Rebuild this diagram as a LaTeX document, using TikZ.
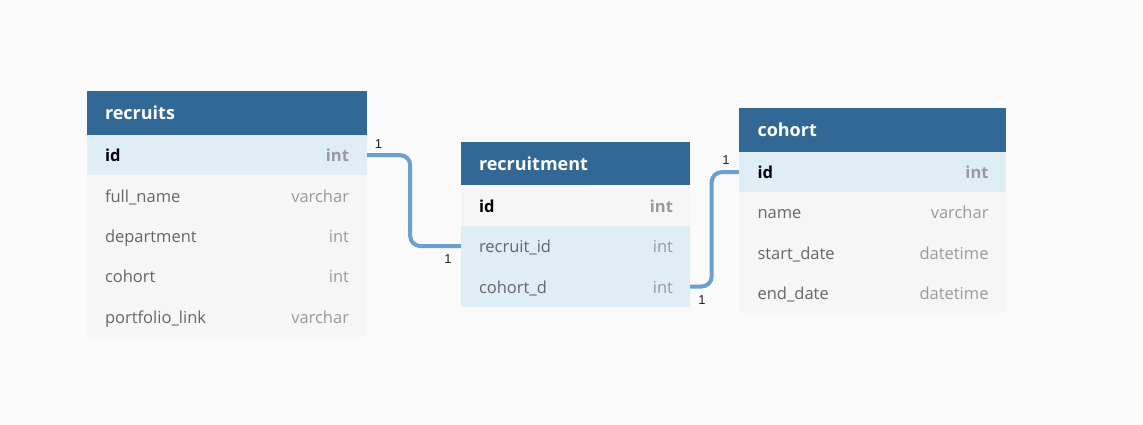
\documentclass[tikz,border=0pt]{standalone}
\usepackage{fontspec}
\setmainfont{Open Sans}
\newfontfamily\labelfont{Liberation Sans}
\usetikzlibrary{calc}
\definecolor{bgc}{HTML}{FAFAFA}
\definecolor{hdr}{HTML}{316896}
\definecolor{rowblue}{HTML}{DFEDF5}
\definecolor{rowgrey}{HTML}{F6F6F6}
\definecolor{fieldc}{HTML}{666666}
\definecolor{typec}{HTML}{9A9A9A}
\definecolor{connc}{HTML}{6A9FD0}
\definecolor{cardc}{HTML}{222222}
\tikzset{
  hdrbox/.style={rectangle, fill=hdr, inner sep=0pt, minimum height=44pt},
  rowbox/.style={rectangle, inner sep=0pt, minimum height=40.4pt},
  hdrtext/.style={anchor=base west, text=white, font=\fontsize{18}{20}\selectfont\bfseries, inner sep=0pt},
  fname/.style={anchor=base west, text=fieldc, font=\fontsize{16.5}{19}\selectfont, inner sep=0pt},
  ftype/.style={anchor=base east, text=typec, font=\fontsize{16.5}{19}\selectfont, inner sep=0pt},
  fkey/.style={anchor=base west, text=black, font=\fontsize{16.5}{19}\selectfont\bfseries, inner sep=0pt},
  fkeytype/.style={anchor=base east, text=typec, font=\fontsize{16.5}{19}\selectfont\bfseries, inner sep=0pt},
  conn/.style={draw=connc, line width=4pt, rounded corners=10pt},
  card/.style={anchor=base, text=cardc, font=\labelfont\fontsize{13}{15}\selectfont, inner sep=0pt},
}
\begin{document}
\begin{tikzpicture}[x=1pt,y=-1pt]
\fill[bgc] (0,0) rectangle (1143,425);
\useasboundingbox (0,0) rectangle (1143,425);

% ---------- recruits ----------
\node[hdrbox, minimum width=280pt] (r-h) at (227,113) {};
\node[hdrtext] (r-ht) at ([xshift=18pt,yshift=-7pt]r-h.west) {recruits};
\node[rowbox, fill=rowblue, minimum width=280pt] (r-id) at (227,155.2) {};
\node[rowbox, fill=rowgrey, minimum width=280pt] (r-fn) at (227,195.6) {};
\node[rowbox, fill=rowgrey, minimum width=280pt] (r-dep) at (227,236) {};
\node[rowbox, fill=rowgrey, minimum width=280pt] (r-coh) at (227,276.4) {};
\node[rowbox, fill=rowgrey, minimum width=280pt] (r-pl) at (227,316.8) {};
\node[fkey] (r-idn) at ([xshift=18pt,yshift=-6.5pt]r-id.west) {id};
\node[fkeytype] (r-idt) at ([xshift=-18pt,yshift=-6.5pt]r-id.east) {int};
\node[fname] (r-fnn) at ([xshift=18pt,yshift=-6.5pt]r-fn.west) {full\_name};
\node[ftype] (r-fnt) at ([xshift=-18pt,yshift=-6.5pt]r-fn.east) {varchar};
\node[fname] (r-depn) at ([xshift=18pt,yshift=-6.5pt]r-dep.west) {department};
\node[ftype] (r-dept) at ([xshift=-18pt,yshift=-6.5pt]r-dep.east) {int};
\node[fname] (r-cohn) at ([xshift=18pt,yshift=-6.5pt]r-coh.west) {cohort};
\node[ftype] (r-coht) at ([xshift=-18pt,yshift=-6.5pt]r-coh.east) {int};
\node[fname] (r-pln) at ([xshift=18pt,yshift=-6.5pt]r-pl.west) {portfolio\_link};
\node[ftype] (r-plt) at ([xshift=-18pt,yshift=-6.5pt]r-pl.east) {varchar};

% ---------- recruitment ----------
\node[hdrbox, minimum width=229pt, minimum height=43.5pt] (m-h) at (575.5,163.5) {};
\node[hdrtext] (m-ht) at ([xshift=18pt,yshift=-7pt]m-h.west) {recruitment};
\node[rowbox, fill=rowgrey, minimum width=229pt] (m-id) at (575.5,205.5) {};
\node[rowbox, fill=rowblue, minimum width=229pt] (m-rid) at (575.5,246) {};
\node[rowbox, fill=rowblue, minimum width=229pt] (m-coh) at (575.5,286.5) {};
\node[fkey] (m-idn) at ([xshift=18pt,yshift=-6.5pt]m-id.west) {id};
\node[fkeytype] (m-idt) at ([xshift=-17pt,yshift=-6.5pt]m-id.east) {int};
\node[fname] (m-ridn) at ([xshift=18pt,yshift=-6.5pt]m-rid.west) {recruit\_id};
\node[ftype] (m-ridt) at ([xshift=-17pt,yshift=-6.5pt]m-rid.east) {int};
\node[fname] (m-cohn) at ([xshift=18pt,yshift=-6.5pt]m-coh.west) {cohort\_d};
\node[ftype] (m-coht) at ([xshift=-17pt,yshift=-6.5pt]m-coh.east) {int};

% ---------- cohort ----------
\node[hdrbox, minimum width=267pt] (c-h) at (872.5,130) {};
\node[hdrtext] (c-ht) at ([xshift=18.5pt,yshift=-7pt]c-h.west) {cohort};
\node[rowbox, fill=rowblue, minimum width=267pt, minimum height=40.2pt] (c-id) at (872.5,172.1) {};
\node[rowbox, fill=rowgrey, minimum width=267pt, minimum height=40.2pt] (c-nm) at (872.5,212.3) {};
\node[rowbox, fill=rowgrey, minimum width=267pt, minimum height=40.2pt] (c-sd) at (872.5,252.5) {};
\node[rowbox, fill=rowgrey, minimum width=267pt, minimum height=40.2pt] (c-ed) at (872.5,292.7) {};
\node[fkey] (c-idn) at ([xshift=18.5pt,yshift=-6.5pt]c-id.west) {id};
\node[fkeytype] (c-idt) at ([xshift=-17.5pt,yshift=-6.5pt]c-id.east) {int};
\node[fname] (c-nmn) at ([xshift=18.5pt,yshift=-6.5pt]c-nm.west) {name};
\node[ftype] (c-nmt) at ([xshift=-17.5pt,yshift=-6.5pt]c-nm.east) {varchar};
\node[fname] (c-sdn) at ([xshift=18.5pt,yshift=-6.5pt]c-sd.west) {start\_date};
\node[ftype] (c-sdt) at ([xshift=-17.5pt,yshift=-6.5pt]c-sd.east) {datetime};
\node[fname] (c-edn) at ([xshift=18.5pt,yshift=-6.5pt]c-ed.west) {end\_date};
\node[ftype] (c-edt) at ([xshift=-17.5pt,yshift=-6.5pt]c-ed.east) {datetime};

% ---------- connectors ----------
\draw[conn] (r-id.east) -- ++(43,0) |- (m-rid.west);
\draw[conn] (m-coh.east) -- ++(21.5,0) |- (c-id.west);

% ---------- cardinalities ----------
\node[card] (k1) at (378.5,148.3) {1};
\node[card] (k2) at (448,263.3) {1};
\node[card] (k3) at (726,164.3) {1};
\node[card] (k4) at (702,304) {1};
\end{tikzpicture}
\end{document}
